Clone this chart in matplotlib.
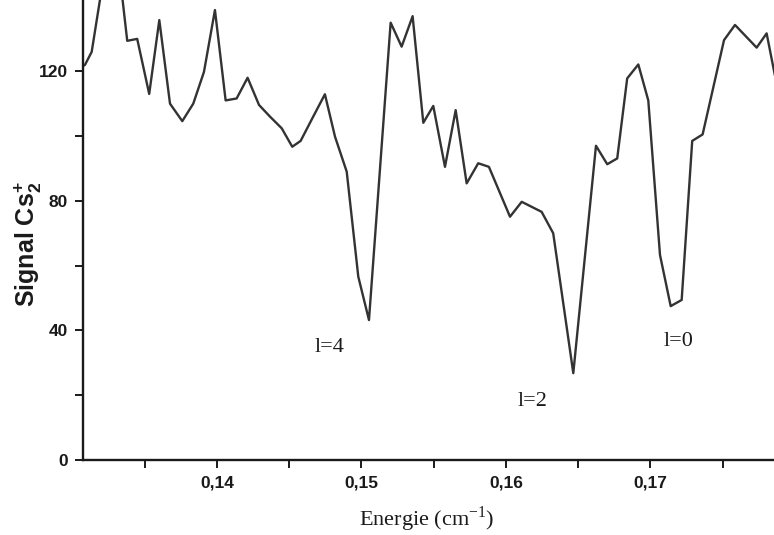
import matplotlib
matplotlib.use("Agg")
import matplotlib.pyplot as plt
from matplotlib.ticker import MultipleLocator, FixedLocator

plt.rcParams["mathtext.fontset"] = "custom"
plt.rcParams["mathtext.rm"] = "Liberation Serif"
plt.rcParams["mathtext.sf"] = "Liberation Sans"
plt.rcParams["mathtext.bf"] = "Liberation Sans:bold"

# energie (cm-1) et signal Cs2+
energie = [
    0.13052, 0.13087, 0.13133, 0.13208, 0.13301, 0.13379, 0.13448, 0.13531,
    0.13601, 0.13675, 0.13760, 0.13836, 0.13910, 0.13986, 0.14060, 0.14136,
    0.14212, 0.14291, 0.14367, 0.14448, 0.14521, 0.14579, 0.14666, 0.14747,
    0.14817, 0.14898, 0.14978, 0.15052, 0.15202, 0.15278, 0.15354, 0.15428,
    0.15497, 0.15578, 0.15652, 0.15728, 0.15808, 0.15882, 0.16028, 0.16109,
    0.16247, 0.16327, 0.16466, 0.16623, 0.16701, 0.16770, 0.16839, 0.16916,
    0.16985, 0.17066, 0.17140, 0.17216, 0.17289, 0.17361, 0.17509, 0.17585,
    0.17735, 0.17804, 0.17860,
]
signal = [
    121.0, 122.0, 126.0, 147.0, 160.0, 129.4, 130.0, 113.0,
    135.8, 110.0, 104.6, 110.0, 119.8, 138.9, 111.0, 111.6,
    118.0, 109.6, 106.0, 102.4, 96.7, 98.5, 106.0, 112.9,
    99.8, 89.0, 56.6, 43.2, 135.0, 127.6, 137.0, 104.1,
    109.3, 90.5, 108.0, 85.4, 91.6, 90.5, 75.1, 79.7,
    76.6, 70.0, 26.8, 97.0, 91.3, 93.1, 117.8, 122.1,
    111.0, 63.3, 47.5, 49.4, 98.5, 100.5, 129.6, 134.3,
    127.3, 131.7, 119.0,
]

x_ticks = [0.14, 0.15, 0.16, 0.17]
x_ticklabels = ["0,14", "0,15", "0,16", "0,17"]
y_ticks = [0, 40, 80, 120]

labels = ["l=4", "l=2", "l=0"]
label_x = [0.14782, 0.16187, 0.17197]
label_y = [34.6, 18.0, 36.5]

fig = plt.figure(figsize=(7.74, 5.35), dpi=100)
ax = fig.add_axes([0.1072, 0.1402, 0.8928, 0.8598])

ax.plot(energie, signal, color="#333333", linewidth=1.7)

ax.set_xlim(0.130727, 0.17855)
ax.set_ylim(0, 142)

ax.spines["top"].set_visible(False)
ax.spines["right"].set_visible(False)
ax.spines["left"].set_linewidth(1.7)
ax.spines["bottom"].set_linewidth(1.7)
ax.spines["left"].set_color("#1a1a1a")
ax.spines["bottom"].set_color("#1a1a1a")

ax.xaxis.set_major_locator(FixedLocator(x_ticks))
ax.set_xticklabels(x_ticklabels)
ax.xaxis.set_minor_locator(MultipleLocator(0.005))
ax.yaxis.set_major_locator(FixedLocator(y_ticks))
ax.yaxis.set_minor_locator(FixedLocator([20, 60, 100]))

ax.tick_params(axis="both", which="both", direction="out", length=6,
               width=1.4, color="#1a1a1a")
ax.tick_params(axis="both", which="major", labelsize=12.5, pad=5)
for lab in ax.get_xticklabels() + ax.get_yticklabels():
    lab.set_family("Liberation Sans")
    lab.set_fontweight("bold")
    lab.set_color("#1a1a1a")

for txt, lx, ly in zip(labels, label_x, label_y):
    ax.text(lx, ly, txt, ha="center", va="center", fontsize=16,
            family="Liberation Serif", color="#1a1a1a")

fig.text(28 / 774, 1 - 244 / 535, r"Signal Cs$_\mathbf{2}^\mathbf{+}$",
         rotation=90, ha="center", va="center", fontsize=18,
         family="Liberation Sans", fontweight="bold", color="#1a1a1a")
fig.text(427 / 774, 1 - 519 / 535, r"Energie (cm$^{\mathrm{-1}}$)",
         ha="center", va="center", fontsize=16,
         family="Liberation Serif", color="#1a1a1a")

fig.savefig("out.png", dpi=100)
